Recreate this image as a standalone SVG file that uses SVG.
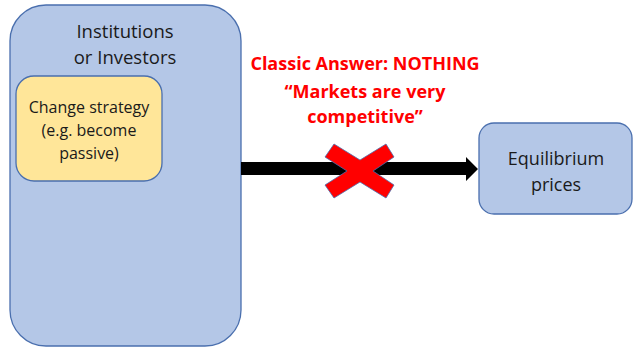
<svg xmlns="http://www.w3.org/2000/svg" width="633" height="348" viewBox="0 0 633 348">
<style>
.box{fill:#B4C7E7;stroke:#4A6FAE;stroke-width:1.3}
.ybox{fill:#FFE699;stroke:#4A6FAE;stroke-width:1.3}
.t{font-family:"Open Sans","Liberation Sans",sans-serif;fill:#1a1a1a;text-anchor:middle}
.r{font-family:"Open Sans","Liberation Sans",sans-serif;fill:#FF0000;font-weight:bold;text-anchor:middle;font-size:18px}
</style>
<rect width="633" height="348" fill="#fff"/>
<g id="institutions">
<rect class="box" x="10" y="5" width="231" height="341" rx="36"/>
<text class="t" x="125" y="38" font-size="18.5">Institutions</text>
<text class="t" x="125" y="64" font-size="18.5">or Investors</text>
</g>
<g id="strategy">
<rect class="ybox" x="16" y="76" width="146" height="105" rx="18"/>
<text class="t" x="89" y="113" font-size="16">Change strategy</text>
<text class="t" x="89" y="136" font-size="16">(e.g. become</text>
<text class="t" x="89" y="159" font-size="16">passive)</text>
</g>
<g id="equilibrium">
<rect class="box" x="479" y="123" width="153" height="91" rx="15"/>
<text class="t" x="556" y="165" font-size="18">Equilibrium</text>
<text class="t" x="556" y="191" font-size="18">prices</text>
</g>
<g id="label">
<text class="r" x="365" y="70">Classic Answer: NOTHING</text>
<text class="r" x="365" y="98">“Markets are very</text>
<text class="r" x="365" y="123">competitive”</text>
</g>
<g id="connectors">
<polygon points="241,162 466,162 466,157 478,169 466,181 466,175 241,175" fill="#000"/>
<polygon points="334,144 360,160 386,144 394,157 373,171 394,185 386,198 360,182 334,198 325,185 347,171 325,157" fill="#FF0000" stroke="#4A6FAE" stroke-width="0.8"/>
</g>
</svg>
